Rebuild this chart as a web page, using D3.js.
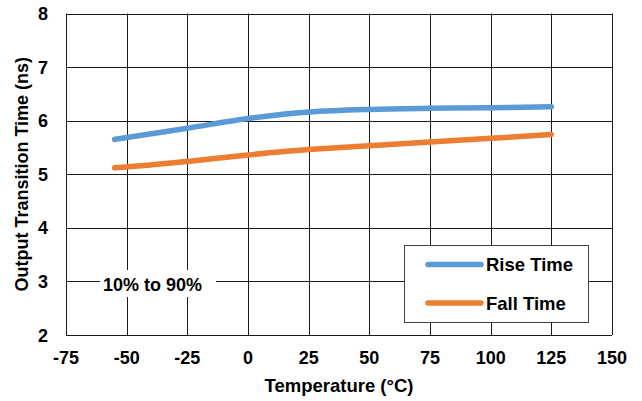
<!DOCTYPE html>
<html>
<head>
<meta charset="utf-8">
<script src="https://cdn.jsdelivr.net/npm/d3@7"></script>
<style>
  body { margin: 0; background: #fff; }
  text { font-family: "Liberation Sans", Arial, sans-serif; font-weight: bold; fill: #000; font-size: 18px; }
</style>
</head>
<body>
<div id="chart"></div>
<script>
// temperature points (°C)
const temps = [-55, -25, 0, 25, 50, 75, 100, 125];
const riseTime = [5.65, 5.86, 6.04, 6.16, 6.21, 6.23, 6.24, 6.26];
const fallTime = [5.12, 5.24, 5.36, 5.46, 5.53, 5.60, 5.67, 5.74];
const xTicks = [-75, -50, -25, 0, 25, 50, 75, 100, 125, 150];
const yTicks = [2, 3, 4, 5, 6, 7, 8];
const seriesNames = ["Rise Time", "Fall Time"];

const width = 642, height = 401;
const margin = { top: 13.5, right: 30, bottom: 66, left: 66 };

const svg = d3.select("#chart").append("svg")
  .attr("width", width)
  .attr("height", height);

const x = d3.scaleLinear().domain([-75, 150]).range([margin.left, width - margin.right]);
const y = d3.scaleLinear().domain([2, 8]).range([height - margin.bottom, margin.top]);

// grid
svg.append("g")
  .selectAll("line")
  .data(xTicks)
  .enter().append("line")
  .attr("x1", d => Math.round(x(d)) + 0.5)
  .attr("x2", d => Math.round(x(d)) + 0.5)
  .attr("y1", y(8))
  .attr("y2", y(2))
  .style("stroke", "#1a1a1a")
  .style("stroke-width", 1);

svg.append("g")
  .selectAll("line")
  .data(yTicks)
  .enter().append("line")
  .attr("x1", x(-75))
  .attr("x2", x(150))
  .attr("y1", d => Math.round(y(d)) + 0.5)
  .attr("y2", d => Math.round(y(d)) + 0.5)
  .style("stroke", "#1a1a1a")
  .style("stroke-width", 1);

// tick labels
svg.append("g")
  .selectAll("text")
  .data(xTicks)
  .enter().append("text")
  .attr("x", d => x(d))
  .attr("y", 364)
  .attr("text-anchor", "middle")
  .text(d => d);

svg.append("g")
  .selectAll("text")
  .data(yTicks)
  .enter().append("text")
  .attr("x", 48)
  .attr("y", d => y(d) + 6.5)
  .attr("text-anchor", "end")
  .text(d => d);

// axis titles
svg.append("text")
  .attr("x", (x(-75) + x(150)) / 2)
  .attr("y", 392)
  .attr("text-anchor", "middle")
  .style("font-size", "18.5px")
  .text("Temperature (°C)");

svg.append("text")
  .attr("transform", `translate(28,${(y(2) + y(8)) / 2}) rotate(-90)`)
  .attr("text-anchor", "middle")
  .text("Output Transition Time (ns)");

// annotation
svg.append("rect")
  .attr("x", 100).attr("y", 270)
  .attr("width", 116).attr("height", 27)
  .style("fill", "#fff");
svg.append("text")
  .attr("x", 103)
  .attr("y", 291)
  .text("10% to 90%");

// series
const line = d3.line()
  .x(d => x(d[0]))
  .y(d => y(d[1]))
  .curve(d3.curveMonotoneX);

const colors = ["#5B9BD5", "#ED7D31"];
[riseTime, fallTime].forEach((vals, i) => {
  svg.append("path")
    .datum(temps.map((t, j) => [t, vals[j]]))
    .attr("d", line)
    .style("fill", "none")
    .style("stroke", colors[i])
    .style("stroke-width", 5.5)
    .style("stroke-linecap", "round");
});

// legend
const lg = svg.append("g");
lg.append("rect")
  .attr("x", 404.5).attr("y", 245.5)
  .attr("width", 184).attr("height", 77)
  .style("fill", "#fff")
  .style("stroke", "#404040")
  .style("stroke-width", 1);

seriesNames.forEach((name, i) => {
  const ly = 264.5 + i * 38.5;
  lg.append("line")
    .attr("x1", 428).attr("x2", 481)
    .attr("y1", ly).attr("y2", ly)
    .style("stroke", colors[i])
    .style("stroke-width", 5.5)
    .style("stroke-linecap", "round");
  lg.append("text")
    .attr("x", 486)
    .attr("y", ly + 6.5)
    .style("font-size", "18.5px")
    .text(name);
});
</script>
</body>
</html>
